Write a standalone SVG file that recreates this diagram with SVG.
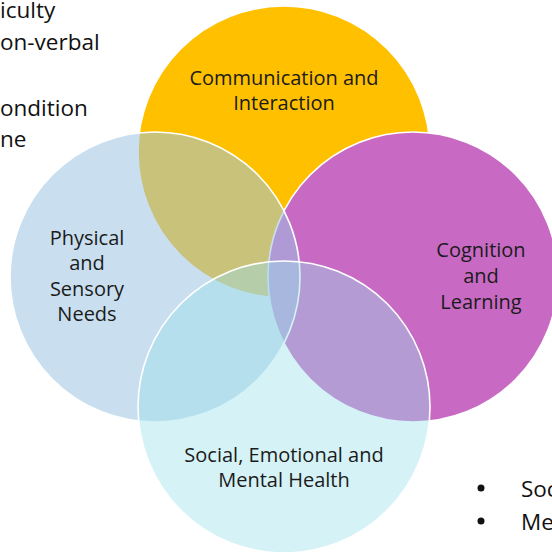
<svg xmlns="http://www.w3.org/2000/svg" width="552" height="552" viewBox="0 0 552 552">
  <style>
    .circle { stroke: #ffffff; stroke-width: 1.6; }
    .label { font-family: "Open Sans", "Noto Sans", sans-serif; font-size: 20px; fill: #1b1b1b; text-anchor: middle; }
    .side { font-family: "Open Sans", "Noto Sans", sans-serif; font-size: 22.5px; fill: #111111; }
  </style>
  <rect x="0" y="0" width="552" height="552" fill="#ffffff"/>
  <g id="side-text-left">
    <text class="side" x="0" y="18">iculty</text>
    <text class="side" x="0" y="50">on-verbal</text>
    <text class="side" x="0" y="116">ondition</text>
    <text class="side" x="0" y="147">ne</text>
  </g>
  <g id="node-communication">
    <circle class="circle" cx="284" cy="152" r="146" fill="#FFC000"/>
    <text class="label" x="284" y="85">Communication and</text>
    <text class="label" x="284" y="110">Interaction</text>
  </g>
  <g id="node-cognition">
    <circle class="circle" cx="413" cy="277" r="145" fill="#C86AC4"/>
    <text class="label" x="481" y="257">Cognition</text>
    <text class="label" x="481" y="283">and</text>
    <text class="label" x="481" y="309">Learning</text>
  </g>
  <g id="node-physical">
    <circle class="circle" cx="155" cy="277" r="145" fill="#9BC4E4" fill-opacity="0.54"/>
    <text class="label" x="87" y="245">Physical</text>
    <text class="label" x="87" y="270">and</text>
    <text class="label" x="87" y="296">Sensory</text>
    <text class="label" x="87" y="321">Needs</text>
  </g>
  <g id="node-social">
    <circle class="circle" cx="284" cy="407" r="146" fill="#9BE0E9" fill-opacity="0.42"/>
    <text class="label" x="284" y="462">Social, Emotional and</text>
    <text class="label" x="284" y="487">Mental Health</text>
  </g>
  <g id="connectors"/>
  <g id="side-text-right">
    <circle cx="481" cy="488" r="3.5" fill="#111111"/>
    <circle cx="481" cy="521" r="3.5" fill="#111111"/>
    <text class="side" x="521" y="497">Soc</text>
    <text class="side" x="521" y="530">Me</text>
  </g>
</svg>
